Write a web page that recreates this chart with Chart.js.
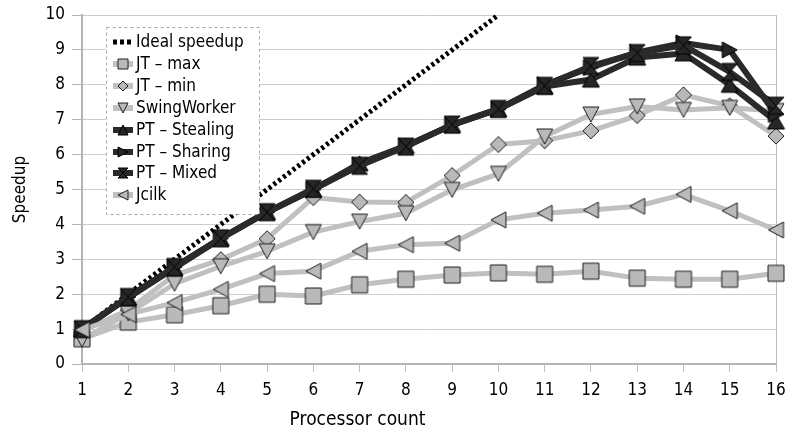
<!DOCTYPE html>
<html>
<head>
<meta charset="utf-8">
<script src="https://cdn.jsdelivr.net/npm/chart.js@4/dist/chart.umd.min.js"></script>
<style>
  html, body { margin: 0; padding: 0; background: #fff; }
  #wrap { width: 791px; height: 434px; }
</style>
</head>
<body>
<div id="wrap"><canvas id="chart" width="791" height="434"></canvas></div>
<script>
// Processor counts along the x axis
const processors = ['1','2','3','4','5','6','7','8','9','10','11','12','13','14','15','16'];

// Speedup per processor count
const idealSpeedup = [1, 2, 3, 4, 5, 6, 7, 8, 9, 10, null, null, null, null, null, null];
const jtMax        = [0.72, 1.2, 1.41, 1.67, 2.0, 1.95, 2.27, 2.43, 2.55, 2.61, 2.57, 2.66, 2.46, 2.43, 2.43, 2.6];
const jtMin        = [0.95, 1.55, 2.55, 2.99, 3.59, 4.77, 4.64, 4.63, 5.4, 6.29, 6.4, 6.68, 7.12, 7.71, 7.4, 6.53];
const swingWorker  = [0.7, 1.45, 2.3, 2.8, 3.23, 3.78, 4.08, 4.32, 4.99, 5.45, 6.52, 7.15, 7.38, 7.28, 7.34, 7.25];
const ptStealing   = [1.0, 1.9, 2.75, 3.6, 4.35, 5.0, 5.75, 6.25, 6.85, 7.3, 7.95, 8.15, 8.78, 8.9, 8.0, 6.95];
const ptSharing    = [1.0, 1.92, 2.78, 3.6, 4.35, 5.0, 5.7, 6.25, 6.85, 7.3, 8.0, 8.5, 8.93, 9.2, 9.0, 7.15];
const ptMixed      = [1.0, 1.92, 2.78, 3.6, 4.35, 5.02, 5.68, 6.23, 6.86, 7.31, 7.97, 8.54, 8.91, 9.13, 8.37, 7.4];
const jcilk        = [0.98, 1.42, 1.76, 2.14, 2.59, 2.66, 3.23, 3.42, 3.46, 4.13, 4.32, 4.41, 4.52, 4.86, 4.39, 3.84];

const yTicks = [0, 1, 2, 3, 4, 5, 6, 7, 8, 9, 10];

const FONT = "'DejaVu Sans Condensed', 'DejaVu Sans', sans-serif";
const LIGHT_LINE = '#c0c0c0', LIGHT_FILL = '#b9b9b9', LIGHT_EDGE = '#1e1e1e';
const DARK_LINE = '#2a2a2a', DARK_FILL = '#262626', DARK_EDGE = '#000';

// Marker images, centred on their bounding box
function makeMarker(shape, w, h, fill, stroke) {
  const pad = 2;
  const c = document.createElement('canvas');
  c.width = w + pad * 2; c.height = h + pad * 2;
  const g = c.getContext('2d');
  g.translate(pad + w / 2, pad + h / 2);
  const a = w / 2, b = h / 2;
  g.beginPath();
  switch (shape) {
    case 'square': g.rect(-a, -b, w, h); break;
    case 'diamond': g.moveTo(0, -b); g.lineTo(a, 0); g.lineTo(0, b); g.lineTo(-a, 0); break;
    case 'up': g.moveTo(0, -b); g.lineTo(a, b); g.lineTo(-a, b); break;
    case 'down': g.moveTo(-a, -b); g.lineTo(a, -b); g.lineTo(0, b); break;
    case 'left': g.moveTo(-a, 0); g.lineTo(a, -b); g.lineTo(a, b); break;
    case 'right': g.moveTo(a, 0); g.lineTo(-a, -b); g.lineTo(-a, b); break;
    case 'hourglass': g.moveTo(-a, -b); g.lineTo(a, -b); g.lineTo(-a, b); g.lineTo(a, b); break;
  }
  g.closePath();
  g.fillStyle = fill; g.fill();
  g.lineWidth = 1; g.strokeStyle = stroke; g.stroke();
  return c;
}

const seriesStyle = [
  { label: 'Ideal speedup', data: idealSpeedup, kind: 'ideal' },
  { label: 'JT \u2013 max',  data: jtMax,       kind: 'light', shape: 'square',    w: 16, h: 16 },
  { label: 'JT \u2013 min',  data: jtMin,       kind: 'light', shape: 'diamond',   w: 16, h: 16 },
  { label: 'SwingWorker',    data: swingWorker, kind: 'light', shape: 'down',      w: 16, h: 15 },
  { label: 'PT \u2013 Stealing', data: ptStealing, kind: 'dark', shape: 'up',      w: 17, h: 15 },
  { label: 'PT \u2013 Sharing',  data: ptSharing,  kind: 'dark', shape: 'right',   w: 15, h: 16 },
  { label: 'PT \u2013 Mixed',    data: ptMixed,    kind: 'dark', shape: 'hourglass', w: 16, h: 17 },
  { label: 'Jcilk',          data: jcilk,       kind: 'light', shape: 'left',      w: 15, h: 16 }
];

const datasets = seriesStyle.map((s, i) => {
  const base = {
    label: s.label,
    data: s.data,
    tension: 0,
    fill: false,
    clip: false,
    spanGaps: false,
    order: seriesStyle.length - i
  };
  if (s.kind === 'ideal') {
    return Object.assign(base, {
      borderColor: '#000', borderWidth: 5, borderDash: [3, 3], borderCapStyle: 'butt',
      pointRadius: 0, pointHoverRadius: 0
    });
  }
  const light = s.kind === 'light';
  s.fill = light ? LIGHT_FILL : DARK_FILL;
  s.edge = light ? LIGHT_EDGE : DARK_EDGE;
  s.line = light ? LIGHT_LINE : DARK_LINE;
  return Object.assign(base, {
    borderColor: s.line,
    borderWidth: light ? 5 : 6,
    borderJoinStyle: 'round',
    pointStyle: makeMarker(s.shape, s.w, s.h, s.fill, s.edge),
    pointRadius: 9,
    pointHoverRadius: 9
  });
});

// Legend box drawn inside the plot area
const boxLegend = {
  id: 'boxLegend',
  afterDraw(chart) {
    const { ctx, chartArea: ca } = chart;
    const bx = ca.left + 24, by = ca.top + 12, bw = 153, bh = 187;
    ctx.save();
    ctx.fillStyle = '#fff';
    ctx.fillRect(bx, by, bw, bh);
    ctx.setLineDash([3, 3]);
    ctx.strokeStyle = '#a8a8a8';
    ctx.lineWidth = 1;
    ctx.strokeRect(bx + 0.5, by + 0.5, bw, bh);
    ctx.setLineDash([]);
    ctx.font = '17px ' + FONT;
    ctx.textBaseline = 'middle';
    ctx.textAlign = 'left';
    seriesStyle.forEach((s, i) => {
      const y = Math.round(by + 15 + i * 21.9);
      const x0 = bx + 7, x1 = bx + 27, xm = bx + 17;
      ctx.beginPath();
      ctx.moveTo(x0, y); ctx.lineTo(x1, y);
      if (s.kind === 'ideal') {
        ctx.strokeStyle = '#000'; ctx.lineWidth = 5; ctx.setLineDash([4, 3]);
        ctx.stroke(); ctx.setLineDash([]);
      } else {
        ctx.strokeStyle = s.line; ctx.lineWidth = 6; ctx.stroke();
        const m = makeMarker(s.shape, 10, 10, s.fill, s.edge);
        ctx.drawImage(m, Math.round(xm - m.width / 2), Math.round(y - m.height / 2));
      }
      ctx.fillStyle = '#000';
      ctx.fillText(s.label, bx + 30, y + 1);
    });
    ctx.restore();
  }
};

// x-axis caption
const xCaption = {
  id: 'xCaption',
  afterDraw(chart) {
    const { ctx, chartArea: ca } = chart;
    ctx.save();
    ctx.font = '19px ' + FONT;
    ctx.fillStyle = '#000';
    ctx.textAlign = 'center';
    ctx.textBaseline = 'middle';
    ctx.fillText('Processor count', ca.left + 0.397 * (ca.right - ca.left), 420);
    ctx.restore();
  }
};

new Chart(document.getElementById('chart'), {
  type: 'line',
  data: { labels: processors, datasets },
  options: {
    responsive: false,
    animation: false,
    events: [],
    layout: { padding: { top: 12, right: 12, left: 0, bottom: 0 } },
    plugins: { legend: { display: false }, tooltip: { enabled: false } },
    scales: {
      x: {
        type: 'category',
        offset: false,
        afterFit(s) { s.height = 70; s.paddingLeft = 0; s.paddingRight = 0; },
        grid: {
          drawOnChartArea: true,
          color: c => (c.index === processors.length - 1 ? '#bdbdbd' : 'rgba(0,0,0,0)'),
          tickColor: '#bdbdbd',
          tickLength: 8,
          lineWidth: 1
        },
        border: { color: '#b4b4b4', width: 2 },
        ticks: {
          color: '#000', font: { family: FONT, size: 17 }, padding: 8,
          maxRotation: 0, autoSkip: false
        }
      },
      y: {
        min: yTicks[0],
        max: yTicks[yTicks.length - 1],
        afterFit(s) { s.width = 82; s.paddingTop = 0; s.paddingBottom = 0; },
        afterBuildTicks(s) { s.ticks = yTicks.map(v => ({ value: v })); },
        grid: { color: '#cdcdcd', tickColor: '#b4b4b4', tickLength: 10, lineWidth: 1 },
        border: { color: '#b4b4b4', width: 2 },
        ticks: { color: '#000', font: { family: FONT, size: 17 }, padding: 7 },
        title: {
          display: true, text: 'Speedup', color: '#000',
          font: { family: FONT, size: 17 }, padding: { top: 10, bottom: 0 }
        }
      }
    }
  },
  plugins: [boxLegend, xCaption]
});
</script>
</body>
</html>
